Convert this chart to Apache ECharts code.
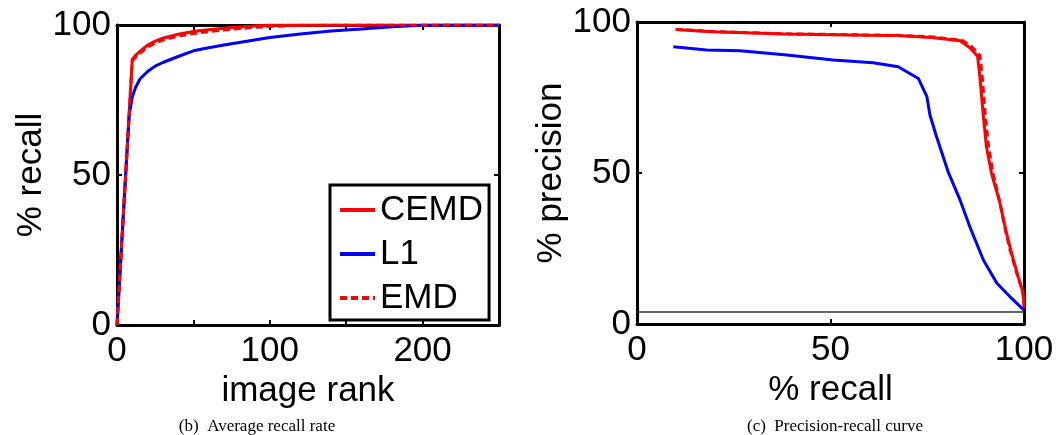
<!DOCTYPE html>
<html><head><meta charset="utf-8">
<script src="https://cdn.jsdelivr.net/npm/echarts@6/dist/echarts.min.js"></script>
<style>html,body{margin:0;padding:0;background:#fff}#c{width:1057px;height:435px}</style>
</head><body><div id="c"></div>
<script>
// ---- Left plot: average recall rate ----
const rankX   = [0,2,4,6,8,10,12,15,20,25,30,40,50,60,70,80,90,100,120,140,160,180,200,220,250];
const recCEMD = [0,17.7,35.4,53,70.8,88.5,89.8,91.2,93.3,94.6,95.6,96.9,97.8,98.4,98.9,99.3,99.7,100,100,100,100,100,100,100,100];
const recL1   = [0,17.7,35.4,53,70,76,79,82,84.5,86.3,87.5,89.5,91.4,92.4,93.3,94.2,95,95.8,97,98,98.7,99.4,99.9,100,100];
const recEMD  = [0,17.7,35.4,53,70.8,88,89.2,90.6,92.6,94.0,95.0,96.3,97.2,97.8,98.3,98.8,99.2,99.5,99.9,100,100,100,100,100,100];
const leftXTicks = [0,100,200];
const yTicks = [0,50,100];

// ---- Right plot: precision-recall ----
const prCEMDRecall    = [10,19,28,38,50,60,67,76,83.5,86,88,88.6,89.5,90.3,91.6,93.8,95.5,96.8,98.5,99.8,100];
const prCEMDPrecision = [97.5,96.8,96.4,96.0,95.8,95.6,95.5,94.9,93.8,91.5,88.7,81.9,68.7,58.7,49.9,40,30,23.4,15.7,10.2,5.2];
const prEMDRecall     = [10,19,28,38,50,60,67,76,84,86.5,88.6,89.2,90,90.8,92.0,93.8,95.2,96.5,98.2,99.6,100];
const prEMDPrecision  = [97.6,96.9,96.5,96.1,95.9,95.7,95.6,95.1,94.0,91.8,89.0,82.0,69.0,59.0,50.0,40,31,24,16.5,11,7];
const prL1Recall      = [9.4,18,26.6,38.7,50.7,61,67.5,72.7,74.9,75.7,77.4,80.4,83.5,86,89.5,93,96.4,100];
const prL1Precision   = [91.8,90.7,90.5,89.1,87.4,86.5,85.2,81.3,75.3,69.2,62,50.4,41,32.2,21.2,13.5,9,4.6];
const baselineX = [0,100];
const baselineY = [4,4];
const rightXTicks = [0,50,100];

const zip = (a,b) => a.map((v,i)=>[v,b[i]]);
const FONT = 'Liberation Sans, Arial, sans-serif';
const FS = 35;
const RED = '#ff0000', BLUE = '#0000ff';

function mainX(gi, max, interval, name, ticks){
  return {type:'value', gridIndex:gi, min:0, max:max, interval:interval, position:'bottom',
    name:name, nameLocation:'middle', nameGap:45,
    nameTextStyle:{fontFamily:FONT,fontSize:FS,color:'#000'},
    axisLine:{show:true,onZero:false,lineStyle:{color:'#000',width:3}},
    axisTick:{show:true,inside:true,length:5,lineStyle:{color:'#000',width:2}},
    axisLabel:{show:true,fontFamily:FONT,fontSize:FS,color:'#000',margin:9,
      formatter:v=> ticks.includes(v)?String(v):''},
    splitLine:{show:false}};
}
function topX(gi,max,interval){
  return {type:'value', gridIndex:gi, min:0, max:max, interval:interval, position:'top',
    axisLine:{show:true,onZero:false,lineStyle:{color:'#000',width:3}},
    axisTick:{show:true,inside:true,length:5,lineStyle:{color:'#000',width:2}},
    axisLabel:{show:false}, splitLine:{show:false}};
}
function mainY(gi,name,gap){
  return {type:'value', gridIndex:gi, min:0, max:100, interval:50, position:'left',
    name:name, nameLocation:'middle', nameGap:gap, nameRotate:90,
    nameTextStyle:{fontFamily:FONT,fontSize:FS,color:'#000'},
    axisLine:{show:true,onZero:false,lineStyle:{color:'#000',width:3}},
    axisTick:{show:true,inside:true,length:5,lineStyle:{color:'#000',width:2}},
    axisLabel:{show:true,fontFamily:FONT,fontSize:FS,color:'#000',margin:6},
    splitLine:{show:false}};
}
function rightY(gi){
  return {type:'value', gridIndex:gi, min:0, max:100, interval:50, position:'right',
    axisLine:{show:true,onZero:false,lineStyle:{color:'#000',width:3}},
    axisTick:{show:true,inside:true,length:5,lineStyle:{color:'#000',width:2}},
    axisLabel:{show:false}, splitLine:{show:false}};
}
function line(name,xi,yi,data,color,dashed){
  return {name:name,type:'line',xAxisIndex:xi,yAxisIndex:yi,data:data,symbol:'none',
    lineStyle:{color:color,width:3,type:dashed?[7,4]:'solid'},itemStyle:{color:color},
    animation:false,z:3};
}

const chart = echarts.init(document.getElementById('c'));
chart.setOption({
  backgroundColor:'#fff',
  animation:false,
  grid:[
    {left:117,top:25,width:382,height:300,containLabel:false},
    {left:637,top:22,width:387,height:302,containLabel:false}
  ],
  xAxis:[
    mainX(0,250,50,'image rank',leftXTicks),
    topX(0,250,50),
    mainX(1,100,50,'% recall',rightXTicks),
    topX(1,100,50)
  ],
  yAxis:[
    mainY(0,'% recall',67),
    rightY(0),
    mainY(1,'% precision',67),
    rightY(1)
  ],
  legend:{
    show:true, orient:'vertical', left:330, top:185,
    data:['CEMD','L1','EMD'],
    itemWidth:35, itemHeight:14, itemGap:4,
    padding:[5,6,2,8],
    itemStyle:{opacity:0},
    lineStyle:{width:4},
    borderColor:'#000', borderWidth:3, backgroundColor:'#fff',
    textStyle:{fontFamily:FONT,fontSize:FS,color:'#000',lineHeight:40},
    selectedMode:false
  },
  title:[
    {text:'(b)  Average recall rate', left:252, top:413, textAlign:'center',
      textStyle:{fontFamily:'Liberation Serif, Times New Roman, serif',fontSize:17,fontWeight:'normal',color:'#000'}},
    {text:'(c)  Precision-recall curve', left:830, top:413, textAlign:'center',
      textStyle:{fontFamily:'Liberation Serif, Times New Roman, serif',fontSize:17,fontWeight:'normal',color:'#000'}}
  ],
  series:[
    line('CEMD',0,0,zip(rankX,recCEMD),RED,false),
    line('L1',0,0,zip(rankX,recL1),BLUE,false),
    line('EMD',0,0,zip(rankX,recEMD),RED,true),
    {name:'baseline',type:'line',xAxisIndex:2,yAxisIndex:2,data:zip(baselineX,baselineY),symbol:'none',
      lineStyle:{color:'#333',width:1.5},animation:false,z:2},
    line('CEMD',2,2,zip(prCEMDRecall,prCEMDPrecision),RED,false),
    line('L1',2,2,zip(prL1Recall,prL1Precision),BLUE,false),
    line('EMD',2,2,zip(prEMDRecall,prEMDPrecision),RED,true)
  ]
});
</script></body></html>
